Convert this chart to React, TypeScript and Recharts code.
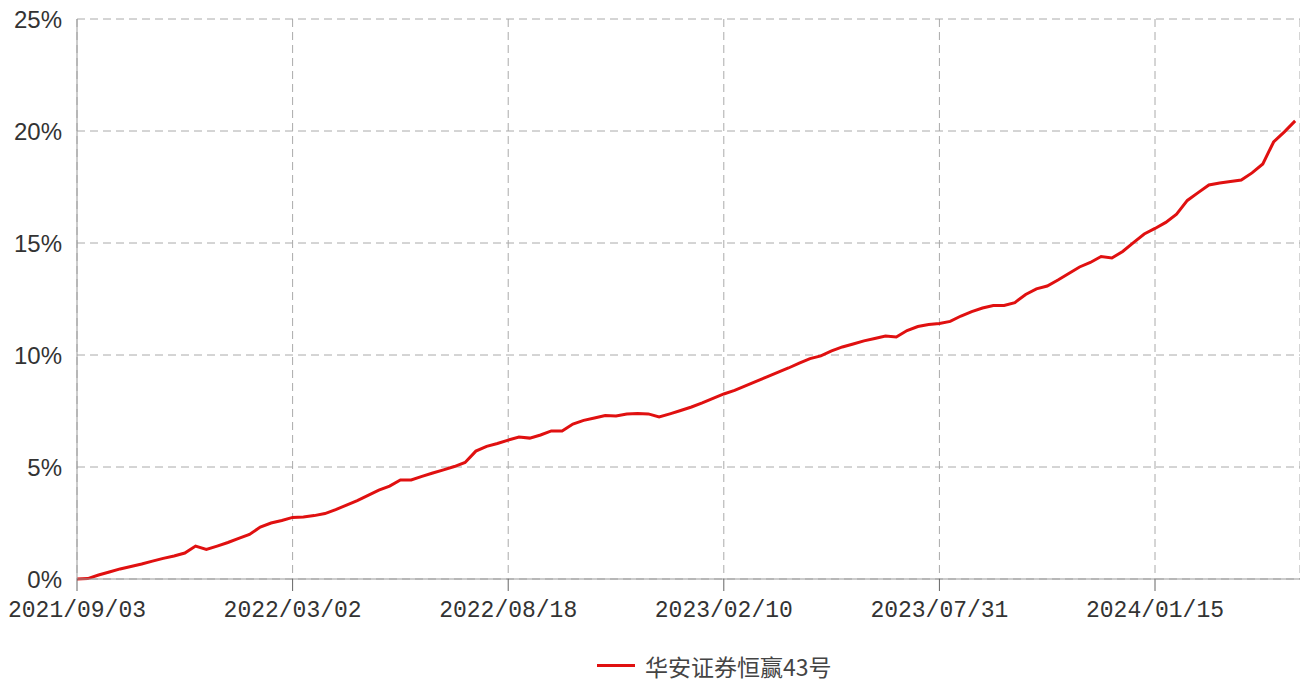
import { LineChart, Line, XAxis, YAxis, CartesianGrid, Legend } from "recharts";

// trading-day sample index -> tick label
const tickIndex = [0, 20, 40, 60, 80, 100];
const tickLabels = ["2021/09/03", "2022/03/02", "2022/08/18", "2023/02/10", "2023/07/31", "2024/01/15"];
const yTicks = [0, 5, 10, 15, 20, 25];

const seriesName = "华安证券恒赢43号";

// cumulative return (%)
const returns = [
  0.0, 0.02, 0.18, 0.31, 0.45, 0.56, 0.67, 0.8, 0.92, 1.03,
  1.16, 1.47, 1.32, 1.47, 1.63, 1.81, 1.99, 2.32, 2.5, 2.61,
  2.75, 2.77, 2.83, 2.92, 3.1, 3.3, 3.5, 3.73, 3.97, 4.15,
  4.42, 4.42, 4.58, 4.73, 4.87, 5.02, 5.2, 5.71, 5.92, 6.05,
  6.2, 6.34, 6.29, 6.43, 6.61, 6.61, 6.92, 7.08, 7.19, 7.3,
  7.28, 7.37, 7.39, 7.37, 7.23, 7.37, 7.52, 7.68, 7.86, 8.06,
  8.26, 8.42, 8.62, 8.82, 9.02, 9.22, 9.42, 9.64, 9.84, 9.96,
  10.18, 10.36, 10.49, 10.63, 10.74, 10.85, 10.8, 11.09, 11.27, 11.36,
  11.41, 11.5, 11.74, 11.94, 12.1, 12.21, 12.21, 12.34, 12.7, 12.95,
  13.08, 13.35, 13.64, 13.93, 14.13, 14.4, 14.33, 14.62, 15.02, 15.4,
  15.65, 15.92, 16.29, 16.9, 17.25, 17.59, 17.68, 17.75, 17.81, 18.13,
  18.53, 19.51, 19.96, 20.45,
];

const data = returns.map((v, i) => ({ i, v }));

const labelFor = (i: number) => {
  const k = tickIndex.indexOf(i);
  return k >= 0 ? tickLabels[k] : "";
};

function LegendContent() {
  return (
    <div style={{ paddingLeft: 597, paddingTop: 11, height: 31, display: "flex", alignItems: "center" }}>
      <span style={{ display: "inline-block", width: 38, height: 3, background: "#e01010", marginRight: 10 }} />
      <span style={{ fontFamily: "'Noto Sans CJK SC', sans-serif", fontSize: 23, lineHeight: "28px", color: "#444" }}>
        {seriesName}
      </span>
    </div>
  );
}

export default function App() {
  return (
    <div style={{ width: 1300, height: 681, background: "#fff" }}>
      <style>{"body{margin:0}"}</style>
      <LineChart width={1300} height={681} data={data} margin={{ top: 19, right: 0, left: 0, bottom: 0 }}>
        <CartesianGrid strokeDasharray="8 5" stroke="#aaa" />
        <XAxis
          type="number"
          dataKey="i"
          domain={[0, 113.45]}
          ticks={tickIndex}
          tickFormatter={labelFor}
          axisLine={{ stroke: "#999" }}
          tickLine={{ stroke: "#666" }}
          tickSize={12}
          tickMargin={10}
          height={60}
          tick={{ fontSize: 23, fill: "#333", fontFamily: "'Liberation Mono', monospace" }}
        />
        <YAxis
          domain={[0, 25]}
          ticks={yTicks}
          tickFormatter={(v: number) => `${v}%`}
          width={77}
          axisLine={{ stroke: "#999" }}
          tickLine={false}
          tickSize={0}
          tickMargin={15}
          tick={{ fontSize: 24, fill: "#333", fontFamily: "'Liberation Sans', Arial, sans-serif" }}
        />
        <Legend verticalAlign="bottom" height={42} content={<LegendContent />} />
        <Line
          type="linear"
          dataKey="v"
          name={seriesName}
          stroke="#e01010"
          strokeWidth={3}
          dot={false}
          isAnimationActive={false}
        />
      </LineChart>
    </div>
  );
}
